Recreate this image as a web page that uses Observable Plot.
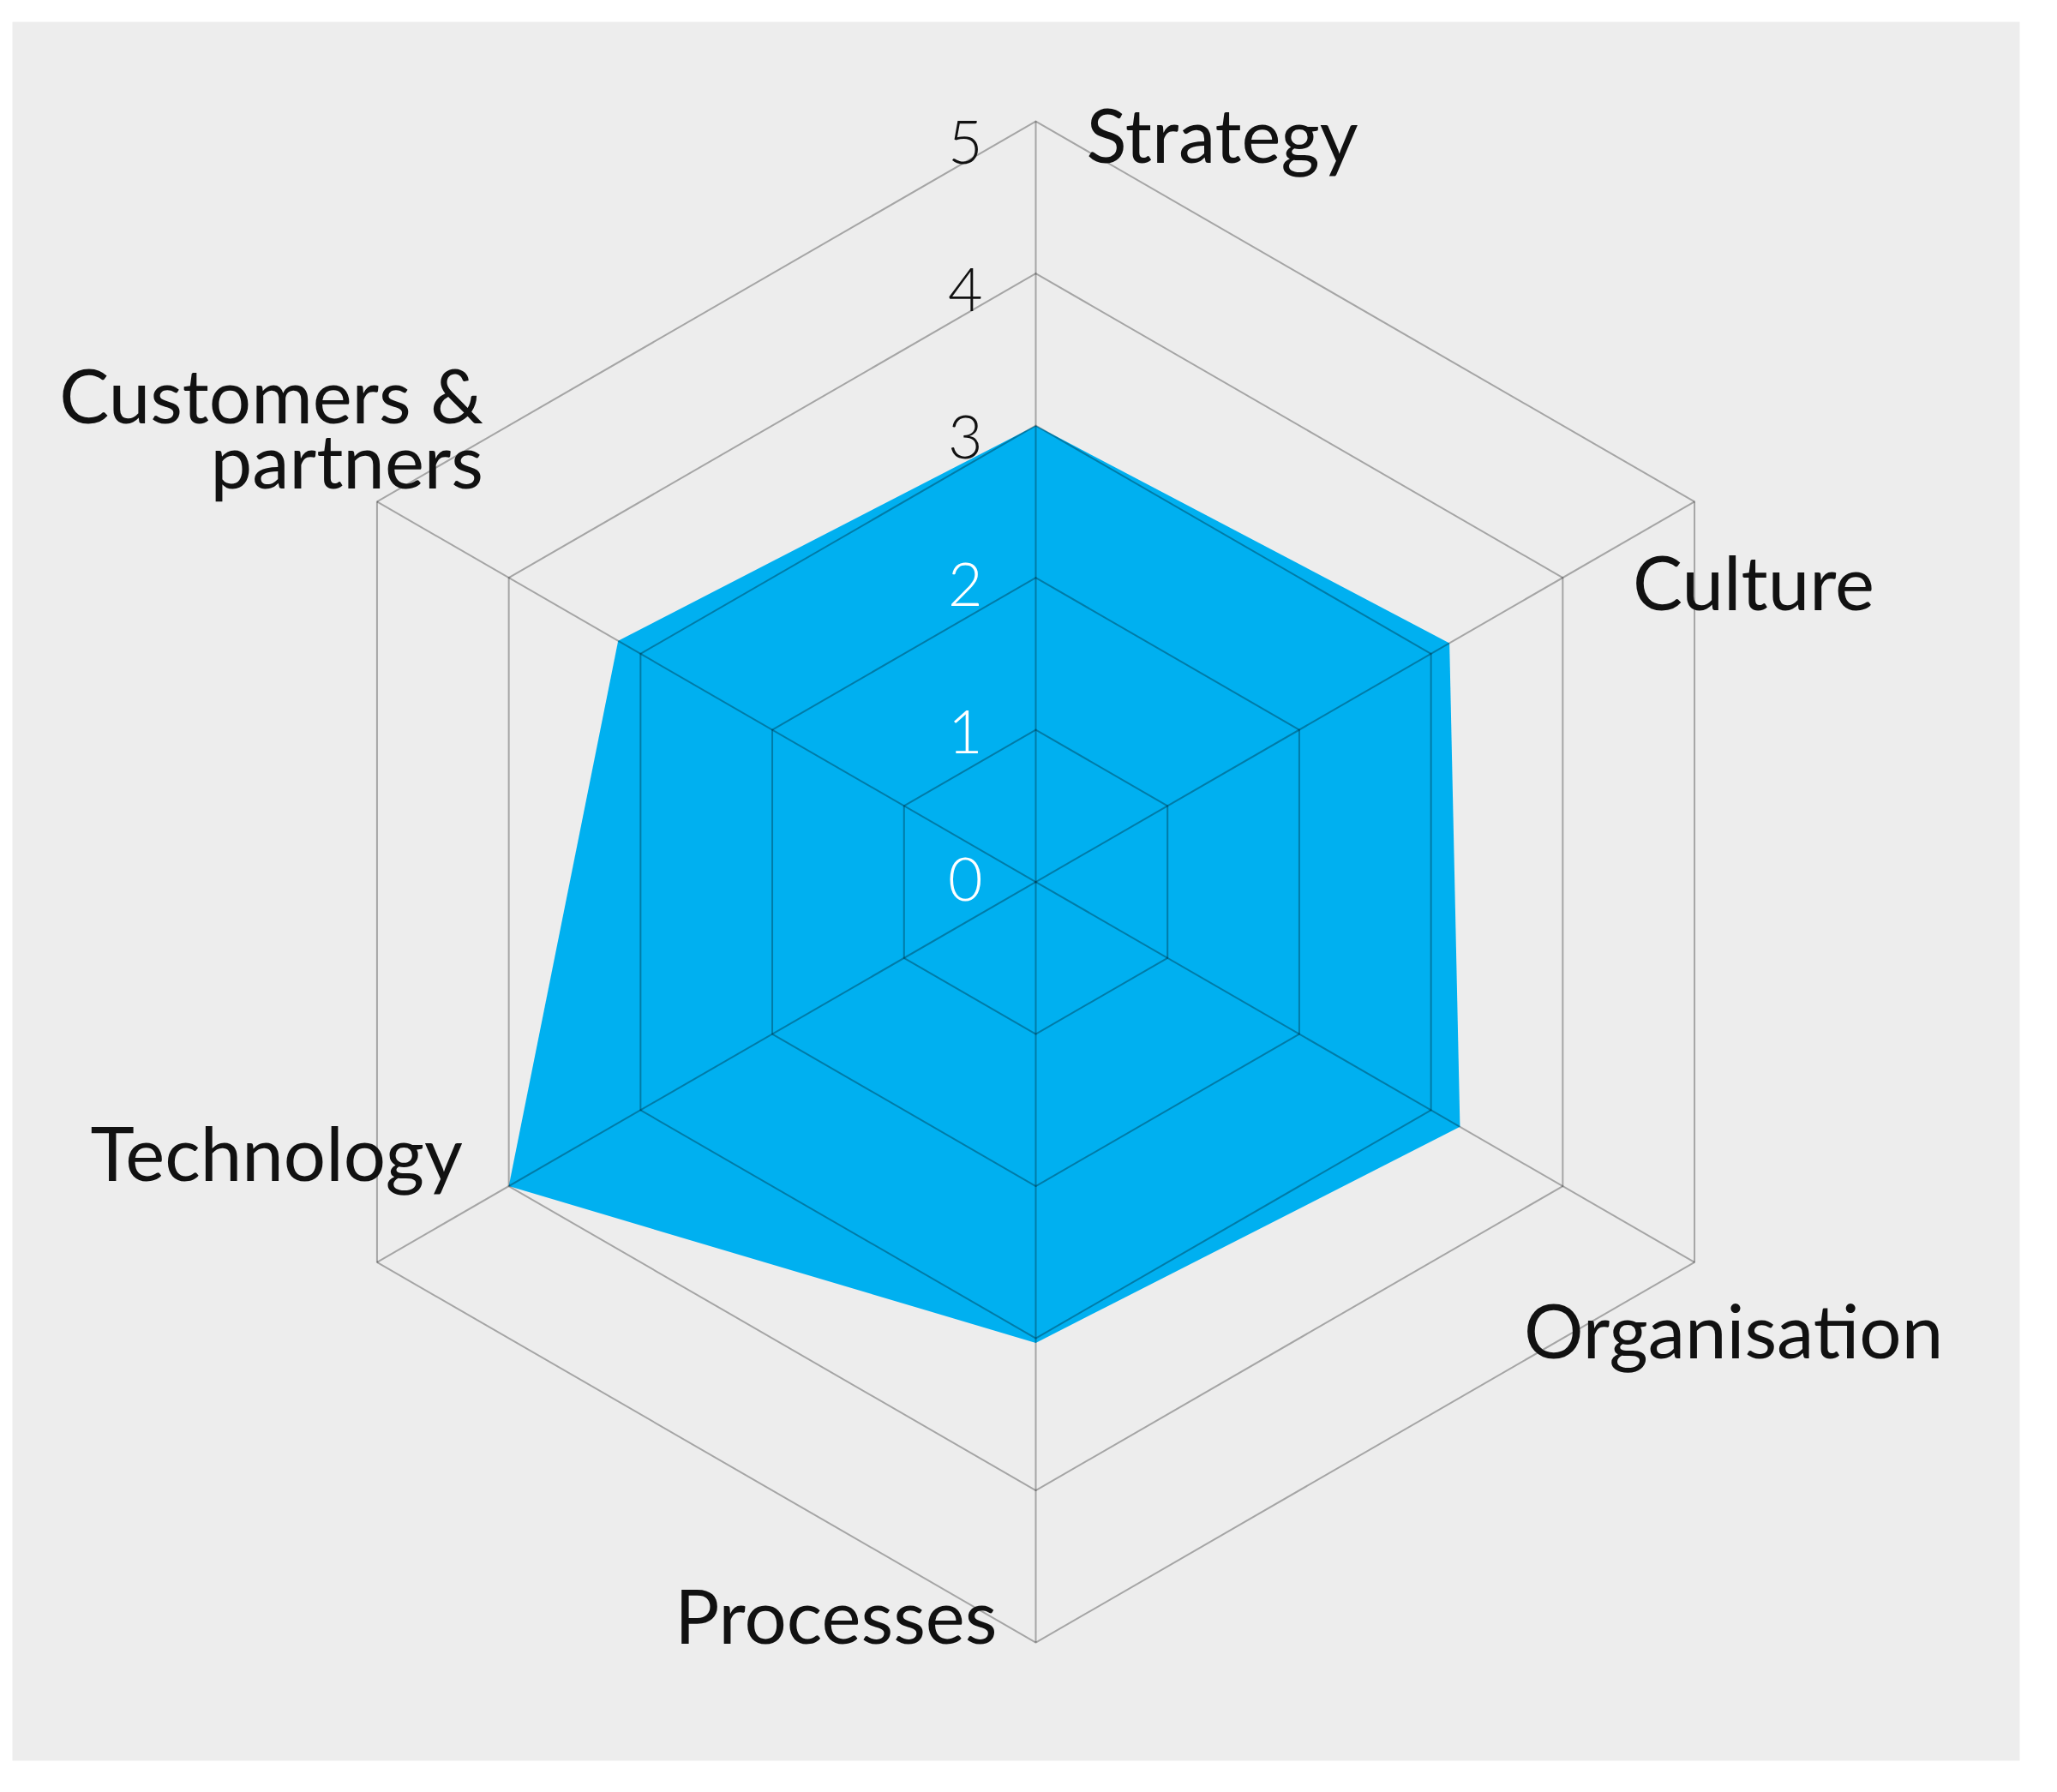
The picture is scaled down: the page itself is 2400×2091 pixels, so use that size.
<!DOCTYPE html>
<html>
<head>
<meta charset="utf-8">
<script src="https://cdn.jsdelivr.net/npm/d3@7"></script>
<script src="https://cdn.jsdelivr.net/npm/@observablehq/plot@0.6"></script>
<style>
  html, body { margin: 0; padding: 0; background: #ffffff; }
  #chart svg { display: block; }
</style>
</head>
<body>
<div id="chart"></div>
<script>
// ---- Data ----
const categories = ["Strategy", "Culture", "Organisation", "Processes", "Technology", "Customers & partners"];
const scores = [3.0, 3.14, 3.22, 3.03, 4.0, 3.17];
const tickValues = [0, 1, 2, 3, 4, 5];
const maxLevel = 5;

// ---- Derived geometry (angles clockwise from top) ----
const n = categories.length;
const angle = i => (i * 2 * Math.PI) / n;
const px = (r, i) => r * Math.sin(angle(i));
const py = (r, i) => r * Math.cos(angle(i));

const scoreRing = categories.map((c, i) => ({cat: c, x: px(scores[i], i), y: py(scores[i], i)}));

const gridRings = [];
for (const lv of tickValues.filter(t => t > 0)) {
  for (let i = 0; i <= n; i++) gridRings.push({level: lv, x: px(lv, i % n), y: py(lv, i % n)});
}
const spokes = categories.map((c, i) => ({cat: c, x2: px(maxLevel, i), y2: py(maxLevel, i)}));

// label placement relative to outer vertex
const labelStyle = [
  {textAnchor: "start", dx: 59, dy: 24},
  {textAnchor: "start", dx: -72, dy: 102},
  {textAnchor: "start", dx: -199, dy: 88},
  {textAnchor: "end", dx: -45, dy: -23},
  {textAnchor: "end", dx: 100, dy: -119},
  {textAnchor: "end", dx: 124, dy: -78}
];
const labelText = c => c === "Customers & partners" ? "Customers &\npartners" : c;

const font = "Lato, 'Open Sans', 'DejaVu Sans', sans-serif";

const marks = [
  Plot.frame({fill: "#ededed", stroke: null}),
  Plot.line(scoreRing, {x: "x", y: "y", curve: "linear-closed", fill: "#00b0f0", stroke: "none"}),
  Plot.line(gridRings, {x: "x", y: "y", z: "level", stroke: "#000", strokeOpacity: 0.3, strokeWidth: 2}),
  Plot.link(spokes, {x1: 0, y1: 0, x2: "x2", y2: "y2", stroke: "#000", strokeOpacity: 0.3, strokeWidth: 2}),
  Plot.text(tickValues, {
    x: 0, y: d => d * 0.97, text: d => String(d),
    textAnchor: "end", dx: -62, lineAnchor: "middle",
    fill: d => d < 3 ? "#ffffff" : "#111111",
    fontSize: 70, fontWeight: 300, fontFamily: font
  })
];
categories.forEach((c, i) => {
  const s = labelStyle[i];
  marks.push(Plot.text([c], {
    x: () => px(maxLevel, i), y: () => py(maxLevel, i),
    text: labelText, textAnchor: s.textAnchor, dx: s.dx, dy: s.dy,
    lineAnchor: "middle", lineHeight: 0.88,
    fill: "#111111", fontSize: 87, fontFamily: font
  }));
});

const chart = Plot.plot({
  width: 2400,
  height: 2091,
  marginLeft: 14, marginRight: 44, marginTop: 25, marginBottom: 37,
  x: {domain: [-6.727, 6.468], axis: null},
  y: {domain: [-5.777, 5.654], axis: null},
  style: {background: "#ffffff", overflow: "visible"},
  marks
});
document.getElementById("chart").appendChild(chart);
</script>
</body>
</html>
